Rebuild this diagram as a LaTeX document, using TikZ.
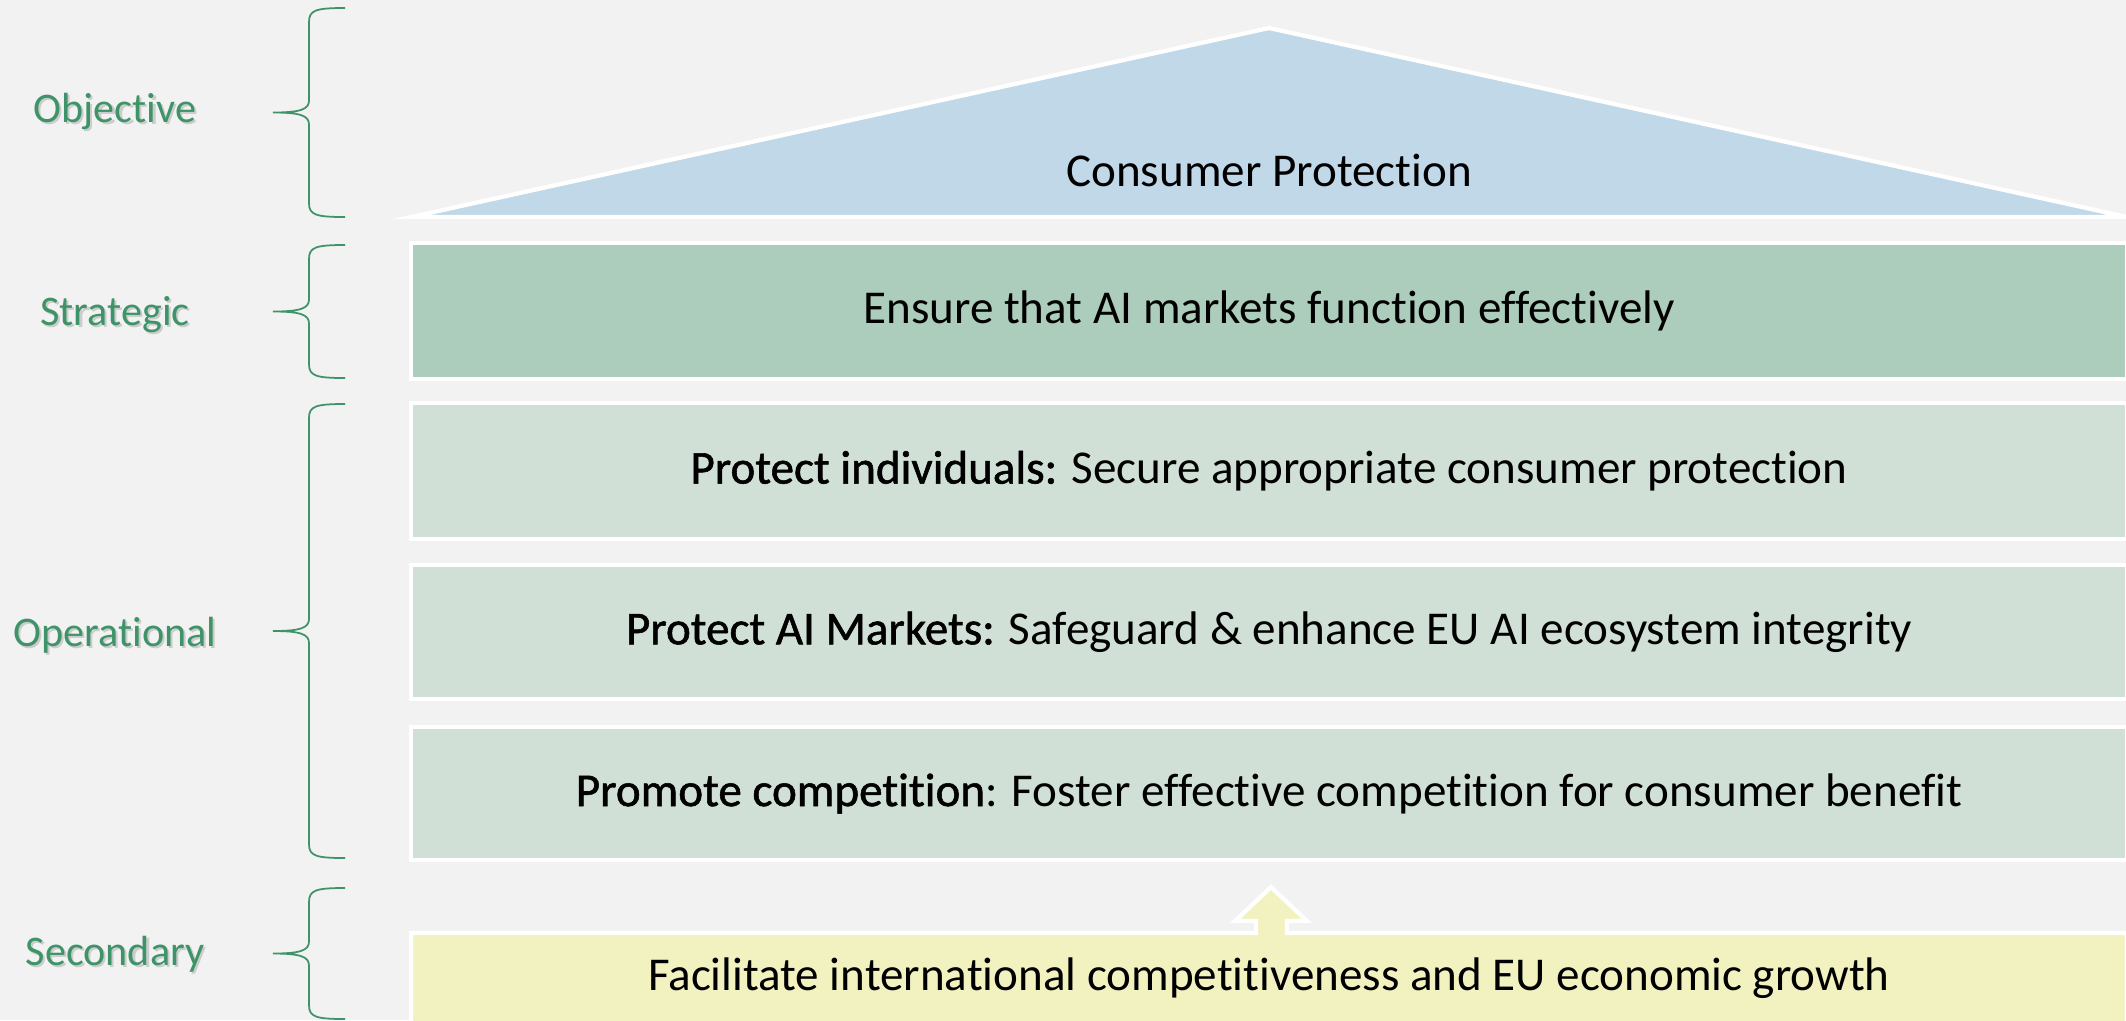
\documentclass[tikz,border=0pt]{standalone}
\usepackage{fontspec}
\setmainfont{Carlito}[Ligatures=NoCommon]
\newfontface\keyface{Carlito}[Ligatures=NoCommon,FakeBold=1.2]
\usetikzlibrary{decorations.pathreplacing,positioning}

\definecolor{pagegray}{HTML}{F2F2F2}
\definecolor{roofblue}{HTML}{C0D8E8}
\definecolor{stratgreen}{HTML}{ACCCBC}
\definecolor{opgreen}{HTML}{D0E0D6}
\definecolor{secyellow}{HTML}{F2F2C0}
\definecolor{lvlgreen}{HTML}{3E9468}

% level name with a soft drop shadow
\newcommand{\lvltext}[1]{\makebox[0pt][l]{\hspace{0.6pt}\raisebox{-0.7pt}{\color{black!20}#1}}#1}
% lead-in words of an operational goal
\newcommand{\keyword}[1]{{\keyface #1}}

\tikzset{
  tier/.style={draw=white,line width=1.2pt,inner sep=0pt,minimum width=171.6mm,font=\fontsize{13.4}{16}\selectfont},
  lvl/.style={anchor=base,text=lvlgreen,font=\fontsize{12}{14}\selectfont},
  lvlbrace/.style={draw=lvlgreen,line width=0.5pt}
}

\begin{document}
\begin{tikzpicture}[x=0.1mm,y=-0.1mm]
  \useasboundingbox (0,0) rectangle (2126,1020);
  \fill[pagegray] (0,0) rectangle (2126,1020);

  % --- roof: overall objective
  \filldraw[fill=roofblue,draw=white,line width=1.2pt] (411,217) -- (1269,28) -- (2127,217) -- cycle;
  \node[font=\fontsize{13.4}{16}\selectfont] (roof) at (1269,170) {Consumer Protection};

  % --- strategic and operational tiers
  \node[tier,fill=stratgreen,minimum height=13.6mm] (strat) at (1269,311) {Ensure that AI markets function effectively};
  \node[tier,fill=opgreen,minimum height=13.6mm] (op1) at (1269,471) {\keyword{Protect individuals:} Secure appropriate consumer protection};
  \node[tier,fill=opgreen,minimum height=13.4mm] (op2) at (1269,632) {\keyword{Protect AI Markets:} Safeguard \& enhance EU AI ecosystem integrity};
  \node[tier,fill=opgreen,minimum height=13.3mm] (op3) at (1269,793.5) {\keyword{Promote competition}: Foster effective competition for consumer benefit};

  % --- secondary tier, arrow pushing up into the operational tiers
  \filldraw[fill=secyellow,draw=white,line width=1.2pt] (411,933) -- (1256,933) -- (1256,921) -- (1235,921) -- (1271,887)
    -- (1307,921) -- (1287,921) -- (1287,933) -- (2127,933) -- (2127,1030) -- (411,1030) -- cycle;
  \node[font=\fontsize{13.4}{16}\selectfont] (sec) at (1269,978) {Facilitate international competitiveness and EU economic growth};

  % --- level names and braces
  \node[lvl] (objlbl) at (115,122) {\lvltext{Objective}};
  \node[lvl] (stratlbl) at (115,325) {\lvltext{Strategic}};
  \node[lvl] (oplbl) at (115,646) {\lvltext{Operational}};
  \node[lvl] (seclbl) at (115,965) {\lvltext{Secondary}};
  \foreach \yt/\yb in {8/217,245/378,404/858,888/1019} {
    \pgfmathsetmacro{\ym}{(\yt+\yb)/2}
    \draw[lvlbrace] (345,\yt) .. controls (316,\yt) and (309,\yt+2) .. (309,\yt+14) -- (309,\ym-12)
      .. controls (309,\ym-3) and (300,\ym) .. (273,\ym)
      .. controls (300,\ym) and (309,\ym+3) .. (309,\ym+12) -- (309,\yb-14)
      .. controls (309,\yb-2) and (316,\yb) .. (345,\yb);
  }
\end{tikzpicture}
\end{document}
